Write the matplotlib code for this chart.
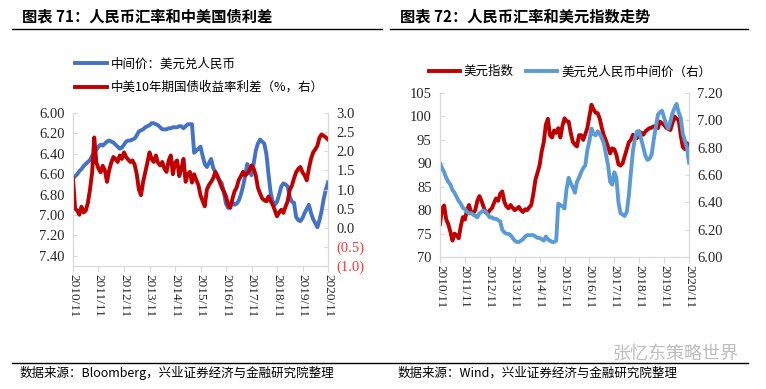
import numpy as np
import matplotlib
matplotlib.use('Agg')
import matplotlib.pyplot as plt
from matplotlib.lines import Line2D

plt.rcParams['font.family'] = ['Noto Sans CJK SC', 'DejaVu Sans']

# month index 0 = 2010/11 ... 120 = 2020/11
xtick_labels = ['2010/11', '2011/11', '2012/11', '2013/11', '2014/11', '2015/11',
                '2016/11', '2017/11', '2018/11', '2019/11', '2020/11']

# chart 71: CNY central parity (left, inverted) and CN-US 10y spread (right)
cny_71 = [6.64, 6.62, 6.60, 6.57, 6.55, 6.52, 6.50, 6.48, 6.46, 6.42, 6.39, 6.36,
          6.33, 6.31, 6.32, 6.30, 6.28, 6.27, 6.28, 6.29, 6.31, 6.33, 6.35, 6.34,
          6.31, 6.28, 6.27, 6.27, 6.26, 6.25, 6.22, 6.18, 6.17, 6.16, 6.14, 6.13,
          6.12, 6.10, 6.10, 6.11, 6.12, 6.14, 6.16, 6.16, 6.16, 6.15, 6.15, 6.14,
          6.14, 6.14, 6.13, 6.13, 6.15, 6.13, 6.11, 6.11, 6.11, 6.39, 6.37, 6.35,
          6.33, 6.42, 6.50, 6.53, 6.49, 6.45, 6.54, 6.58, 6.63, 6.66, 6.69, 6.78,
          6.89, 6.93, 6.89, 6.88, 6.90, 6.89, 6.86, 6.80, 6.72, 6.62, 6.50, 6.56,
          6.61, 6.50, 6.37, 6.30, 6.26, 6.28, 6.30, 6.40, 6.60, 6.78, 6.87, 6.90,
          6.87, 6.80, 6.72, 6.69, 6.70, 6.72, 6.82, 6.87, 6.88, 7.02, 7.05, 7.06,
          7.03, 6.98, 6.94, 6.90, 6.98, 7.04, 7.08, 7.12, 7.05, 6.96, 6.84, 6.75,
          6.68]
spread_71 = [1.30, 0.50, 0.45, 0.34, 0.55, 0.40, 0.45, 0.65, 1.00, 1.45, 2.36, 1.70,
             1.55, 1.45, 1.62, 1.50, 1.20, 1.50, 1.70, 1.85, 1.80, 1.72, 1.89, 1.80,
             1.97, 1.85, 1.78, 1.72, 1.76, 1.65, 1.40, 1.00, 0.85, 1.20, 1.45, 1.70,
             1.97, 1.80, 1.72, 1.89, 1.70, 1.63, 1.72, 1.55, 1.46, 1.75, 1.89, 1.40,
             1.70, 1.76, 1.35, 1.55, 1.80, 1.20, 1.40, 1.46, 1.18, 1.40, 1.25, 1.12,
             0.85, 0.70, 0.56, 1.00, 1.12, 1.20, 1.30, 1.46, 1.35, 1.20, 1.05, 0.95,
             0.82, 0.60, 0.52, 0.75, 0.95, 1.05, 1.25, 1.35, 1.46, 1.37, 1.42, 1.50,
             1.63, 1.55, 1.37, 1.05, 0.90, 0.77, 0.72, 0.69, 0.82, 0.70, 0.60, 0.45,
             0.30, 0.40, 0.47, 0.39, 0.55, 0.69, 0.99, 1.10, 1.29, 1.45, 1.54, 1.59,
             1.45, 1.37, 1.24, 1.55, 1.80, 1.97, 2.05, 2.14, 2.36, 2.44, 2.40, 2.36,
             2.31]

# chart 72: dollar index (left) and CNY central parity (right)
dxy_72 = [77.0, 80.4, 81.0, 78.0, 77.0, 75.4, 73.5, 75.0, 74.6, 74.0, 76.5, 78.5,
          78.0, 80.0, 81.1, 79.5, 79.3, 80.0, 82.0, 83.0, 82.0, 80.7, 79.5, 79.3,
          80.0, 80.4, 81.5, 82.5, 82.0, 83.5, 84.0, 81.8, 80.8, 80.4, 81.1, 80.5,
          80.0, 80.3, 80.7, 80.0, 79.6, 80.2, 80.0, 80.6, 81.1, 83.5, 86.5, 88.0,
          89.6, 92.5, 94.5, 98.2, 99.5, 96.0, 95.5, 97.0, 96.5, 97.5, 95.5, 98.0,
          99.6, 99.0, 98.9, 96.5, 94.6, 94.0, 93.6, 96.0, 96.0, 95.0, 96.2, 97.5,
          100.0, 102.5, 101.5, 100.8, 100.7, 99.5, 97.5, 95.9, 94.8, 93.5, 92.1, 93.2,
          93.0, 91.8, 89.8, 89.5, 90.0, 91.5, 93.0, 94.5, 95.0, 96.1, 95.5, 95.4,
          96.8, 96.5, 96.1, 96.8, 97.2, 97.5, 97.6, 97.9, 97.6, 97.5, 98.9, 98.5,
          98.2, 97.6, 97.3, 97.1, 98.5, 100.0, 99.5, 99.3, 96.0, 93.5, 93.0, 94.3,
          93.6]
cny_72 = [6.686, 6.65, 6.62, 6.58, 6.55, 6.53, 6.49, 6.47, 6.44, 6.41, 6.39, 6.36,
          6.35, 6.33, 6.32, 6.32, 6.31, 6.30, 6.29, 6.32, 6.33, 6.34, 6.33, 6.31,
          6.29, 6.29, 6.28, 6.28, 6.27, 6.26, 6.20, 6.18, 6.17, 6.17, 6.16, 6.14,
          6.12, 6.11, 6.11, 6.12, 6.13, 6.15, 6.16, 6.16, 6.16, 6.16, 6.15, 6.14,
          6.14, 6.13, 6.12, 6.15, 6.13, 6.12, 6.11, 6.11, 6.12, 6.39, 6.38, 6.37,
          6.355, 6.50, 6.58, 6.54, 6.51, 6.47, 6.55, 6.58, 6.62, 6.65, 6.67, 6.78,
          6.85, 6.94, 6.90, 6.89, 6.92, 6.90, 6.87, 6.83, 6.75, 6.67, 6.55, 6.53,
          6.62, 6.58, 6.40, 6.32, 6.31, 6.30, 6.33, 6.45, 6.62, 6.78, 6.87, 6.92,
          6.92, 6.86, 6.80, 6.74, 6.71, 6.72, 6.75, 6.86, 6.95, 7.04, 7.06, 7.07,
          7.02, 6.97, 6.94, 6.99, 7.05, 7.09, 7.12, 7.06, 7.02, 6.90, 6.85, 6.80,
          6.69]

months = np.arange(len(cny_71))
xticks = np.arange(0, 121, 12)

BLUE_71 = '#4472C4'
RED = '#C00000'
BLUE_72 = '#5B9BD5'
SPINE = '#D9D9D9'
TXT = '#262626'
NUM_FONT = 'Liberation Serif'
LW = 2.8


def style_axes(ax, ax2):
    for a in (ax, ax2):
        a.spines['top'].set_visible(False)
        for s in ('left', 'right', 'bottom'):
            a.spines[s].set_color(SPINE)
        a.tick_params(axis='y', direction='in', length=3, color=SPINE,
                      labelsize=10.5, labelcolor=TXT, pad=6)
        for lab in a.get_yticklabels():
            lab.set_fontfamily(NUM_FONT)
    ax.tick_params(axis='x', direction='out', length=4, color=SPINE,
                   labelsize=9.5, labelcolor=TXT, pad=2)
    ax.set_xlim(0, 120)
    ax.set_xticks(xticks)
    ax.set_xticklabels(xtick_labels, rotation=-90, fontfamily=NUM_FONT)


fig = plt.figure(figsize=(7.66, 3.89), dpi=100)

# ---- chart 71
ax = fig.add_axes([0.0953, 0.3162, 0.3329, 0.3933])
ax2 = ax.twinx()
l1, = ax.plot(months, cny_71, color=BLUE_71, lw=LW, label='中间价：美元兑人民币')
l2, = ax2.plot(months, spread_71, color=RED, lw=LW,
               label='中美10年期国债收益率利差（%，右）')
ax.set_ylim(7.5, 6.0)
ax.set_yticks([6.0, 6.2, 6.4, 6.6, 6.8, 7.0, 7.2, 7.4])
ax.set_yticklabels(['6.00', '6.20', '6.40', '6.60', '6.80', '7.00', '7.20', '7.40'])
ax2.set_ylim(-1.0, 3.0)
ax2.set_yticks([-1.0, -0.5, 0.0, 0.5, 1.0, 1.5, 2.0, 2.5, 3.0])
ax2.set_yticklabels(['(1.0)', '(0.5)', '0.0', '0.5', '1.0', '1.5', '2.0', '2.5', '3.0'])
style_axes(ax, ax2)
for lab in ax2.get_yticklabels():
    if lab.get_text().startswith('('):
        lab.set_color('#FF3333')
fig.legend(handles=[l1, l2], loc='upper left', bbox_to_anchor=(0.092, 0.865),
           frameon=False, fontsize=9, handlelength=2.5, labelspacing=0.85,
           handletextpad=0.3, borderaxespad=0)

# ---- chart 72
bx = fig.add_axes([0.5744, 0.3393, 0.3251, 0.4216])
bx2 = bx.twinx()
m1, = bx.plot(months, dxy_72, color=RED, lw=LW, label='美元指数')
m2, = bx2.plot(months, cny_72, color=BLUE_72, lw=LW, label='美元兑人民币中间价（右）')
bx.set_ylim(70, 105)
bx.set_yticks([70, 75, 80, 85, 90, 95, 100, 105])
bx2.set_ylim(6.0, 7.2)
bx2.set_yticks([6.0, 6.2, 6.4, 6.6, 6.8, 7.0, 7.2])
bx2.set_yticklabels(['6.00', '6.20', '6.40', '6.60', '6.80', '7.00', '7.20'])
style_axes(bx, bx2)
fig.legend(handles=[m1, m2], loc='upper left', bbox_to_anchor=(0.553, 0.845),
           frameon=False, fontsize=9, handlelength=2.5, ncol=2,
           columnspacing=1.0, handletextpad=0.3, borderaxespad=0)

# ---- titles, rules, sources
fig.text(22 / 766, 1 - 16 / 389, '图表 71：人民币汇率和中美国债利差', fontsize=11,
         fontweight='bold', va='center', ha='left')
fig.text(400 / 766, 1 - 16 / 389, '图表 72：人民币汇率和美元指数走势', fontsize=11,
         fontweight='bold', va='center', ha='left')
for x0, x1 in ((12, 382), (390, 748)):
    fig.add_artist(Line2D([x0 / 766, x1 / 766], [1 - 29 / 389] * 2, color='black', lw=1))
for x0, x1 in ((12, 382), (383, 748)):
    fig.add_artist(Line2D([x0 / 766, x1 / 766], [1 - 363 / 389] * 2, color='black', lw=1))
fig.text(20 / 766, 1 - 373 / 389, '数据来源：Bloomberg，兴业证券经济与金融研究院整理',
         fontsize=9, va='center', ha='left')
fig.text(398 / 766, 1 - 373 / 389, '数据来源：Wind，兴业证券经济与金融研究院整理',
         fontsize=9, va='center', ha='left')
fig.text(612 / 766, 1 - 354 / 389, '张忆东策略世界', fontsize=13, color='#BDBDBD',
         va='center', ha='left')

fig.savefig('out.png', dpi=100)
